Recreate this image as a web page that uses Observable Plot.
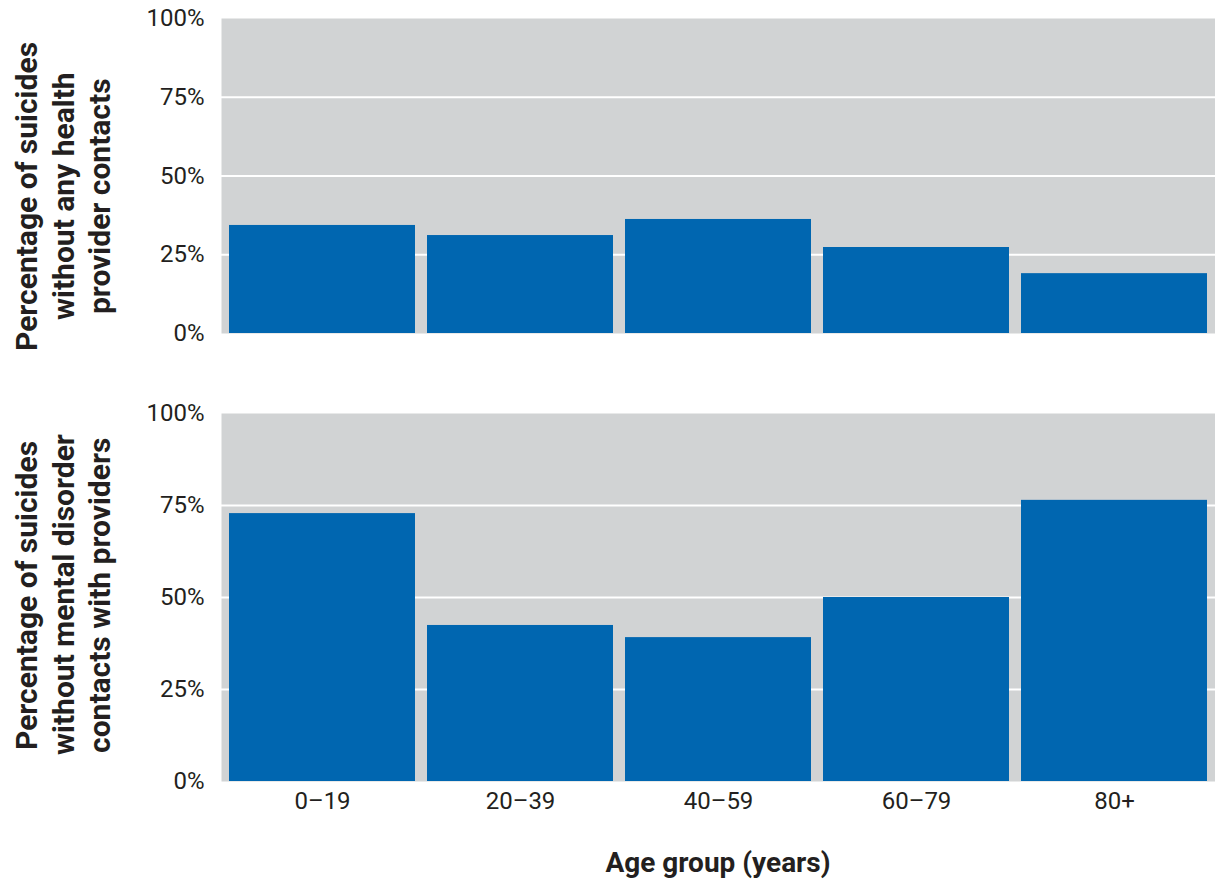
<!DOCTYPE html>
<html><head><meta charset="utf-8">
<script src="https://cdn.jsdelivr.net/npm/d3@7"></script>
<script src="https://cdn.jsdelivr.net/npm/@observablehq/plot@0.6"></script>
<style>
body{margin:0;background:#fff;}
#wrap{position:relative;width:1215px;height:883px;font-family:Roboto,sans-serif;color:#231f20;overflow:hidden;}
#wrap svg{position:absolute;left:0;}
.ytitle{position:absolute;left:9px;height:400px;writing-mode:vertical-rl;transform:rotate(180deg);text-align:center;font-weight:700;font-size:30px;line-height:36.5px;white-space:nowrap;}
#xtitle{position:absolute;left:221px;width:994px;top:846px;text-align:center;font-weight:700;font-size:28px;line-height:33px;}
</style></head><body>
<div id="wrap">
<div class="ytitle" style="top:-4px">Percentage of suicides<br>without any health<br>provider contacts</div>
<div class="ytitle" style="top:395px">Percentage of suicides<br>without mental disorder<br>contacts with providers</div>
<div id="xtitle">Age group (years)</div>
</div>
<script>
const ageGroups = ["0–19", "20–39", "40–59", "60–79", "80+"];
const noAnyContact = [34.3, 31.1, 36.2, 27.3, 19.0];
const noMentalContact = [72.8, 42.4, 39.1, 50.0, 76.4];
const yTicks = [0, 25, 50, 75, 100];
const gridTicks = [25, 50, 75];

const barColor = "#0066b0";
const bgColor = "#d1d3d4";
const textColor = "#231f20";

function panel(values, opts) {
  const data = ageGroups.map((g, i) => ({group: g, value: values[i]}));
  return Plot.plot({
    width: 1215,
    height: opts.height,
    marginLeft: 221,
    marginRight: 0,
    marginTop: opts.marginTop,
    marginBottom: opts.marginBottom,
    style: {fontFamily: "Roboto, sans-serif", fontSize: "24px", color: textColor, background: "transparent", overflow: "visible"},
    x: {domain: ageGroups, paddingInner: 0.062, paddingOuter: 0.034, label: null,
        axis: opts.showX ? "bottom" : null, tickSize: 0, tickPadding: 10},
    y: {domain: [0, 100], ticks: yTicks, tickFormat: d => d + "%", tickSize: 0, tickPadding: 17, label: null},
    marks: [
      Plot.frame({fill: bgColor, stroke: null}),
      Plot.ruleY(gridTicks, {stroke: "white", strokeWidth: 2.2}),
      Plot.barY(data, {x: "group", y: "value", fill: barColor})
    ]
  });
}

const wrap = document.getElementById("wrap");
const topPanel = panel(noAnyContact, {height: 345, marginTop: 18, marginBottom: 12, showX: false});
topPanel.style.top = "0px";
wrap.appendChild(topPanel);
const bottomPanel = panel(noMentalContact, {height: 538, marginTop: 68, marginBottom: 102, showX: true});
bottomPanel.style.top = "345px";
wrap.appendChild(bottomPanel);
</script>
</body></html>
